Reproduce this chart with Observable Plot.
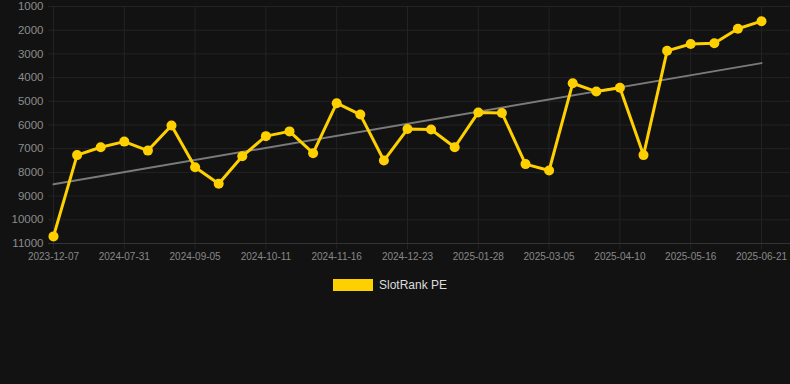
<!DOCTYPE html>
<html>
<head>
<meta charset="utf-8">
<script src="https://cdn.jsdelivr.net/npm/d3@7"></script>
<script src="https://cdn.jsdelivr.net/npm/@observablehq/plot@0.6"></script>
<style>
  html, body { margin: 0; padding: 0; background: #121212; width: 790px; height: 384px; overflow: hidden; }
  #legend { display: flex; justify-content: center; align-items: center; margin-top: 13px; transform: translateX(-5px); font-family: "Liberation Sans", Arial, sans-serif; font-size: 12px; color: #dddddd; }
  #legend .sw { width: 40px; height: 12px; background: #FFD000; margin-right: 6px; }
</style>
</head>
<body>
<div id="chart"></div>
<div id="legend"><span class="sw"></span><span>SlotRank PE</span></div>
<script>
const dates = [
  "2023-12-07","2024-07-07","2024-07-19","2024-07-31","2024-08-12","2024-08-24",
  "2024-09-05","2024-09-17","2024-09-29","2024-10-11","2024-10-23","2024-11-04",
  "2024-11-16","2024-11-28","2024-12-11","2024-12-23","2025-01-04","2025-01-16",
  "2025-01-28","2025-02-09","2025-02-21","2025-03-05","2025-03-17","2025-03-29",
  "2025-04-10","2025-04-22","2025-05-04","2025-05-16","2025-05-28","2025-06-09",
  "2025-06-21"
];
const ranks = [
  10700, 7270, 6940, 6700, 7080, 6020,
  7780, 8480, 7320, 6470, 6270, 7190,
  5080, 5560, 7500, 6170, 6190, 6940,
  5470, 5490, 7650, 7920, 4240, 4590,
  4430, 7270, 2870, 2580, 2550, 1940,
  1620
];
const yTicks = [1000, 2000, 3000, 4000, 5000, 6000, 7000, 8000, 9000, 10000, 11000];
const xTickIdx = d3.range(0, dates.length, 3);
const seriesName = "SlotRank PE";

const data = dates.map((d, i) => ({i, date: d, rank: ranks[i], series: seriesName}));

const chart = Plot.plot({
  width: 790,
  height: 265,
  marginTop: 6,
  marginLeft: 53,
  marginRight: 29,
  marginBottom: 22,
  style: {background: "#121212", color: "#888", fontFamily: "Liberation Sans, Arial, sans-serif", fontSize: "10px"},
  x: {domain: [0, dates.length - 1], ticks: xTickIdx, tickFormat: i => dates[i]},
  y: {domain: [1000, 11000], reverse: true, ticks: yTicks, tickFormat: d => String(d)},
  marks: [
    Plot.ruleY(yTicks, {stroke: "#232323", strokeWidth: 1, insetLeft: -5, insetRight: -29}),
    Plot.ruleX(xTickIdx, {stroke: "#232323", strokeWidth: 1, insetBottom: -6}),
    Plot.ruleY([11000], {stroke: "#333", strokeWidth: 1, insetLeft: -5, insetRight: -29}),
    Plot.axisX({ticks: xTickIdx, tickFormat: i => dates[i], tickSize: 0, tickPadding: 9, fill: "#888", fontSize: 10, label: null}),
    Plot.axisY({ticks: yTicks, tickFormat: d => String(d), tickSize: 0, tickPadding: 10, fill: "#8c8c8c", fontSize: 11.5, label: null}),
    Plot.linearRegressionY(data, {x: "i", y: "rank", stroke: "#7a7a7a", strokeWidth: 2, ci: 0}),
    Plot.line(data, {x: "i", y: "rank", stroke: "#FFD000", strokeWidth: 3}),
    Plot.dot(data, {x: "i", y: "rank", r: 5, fill: "#FFD000"})
  ]
});
document.getElementById("chart").appendChild(chart);
</script>
</body>
</html>
